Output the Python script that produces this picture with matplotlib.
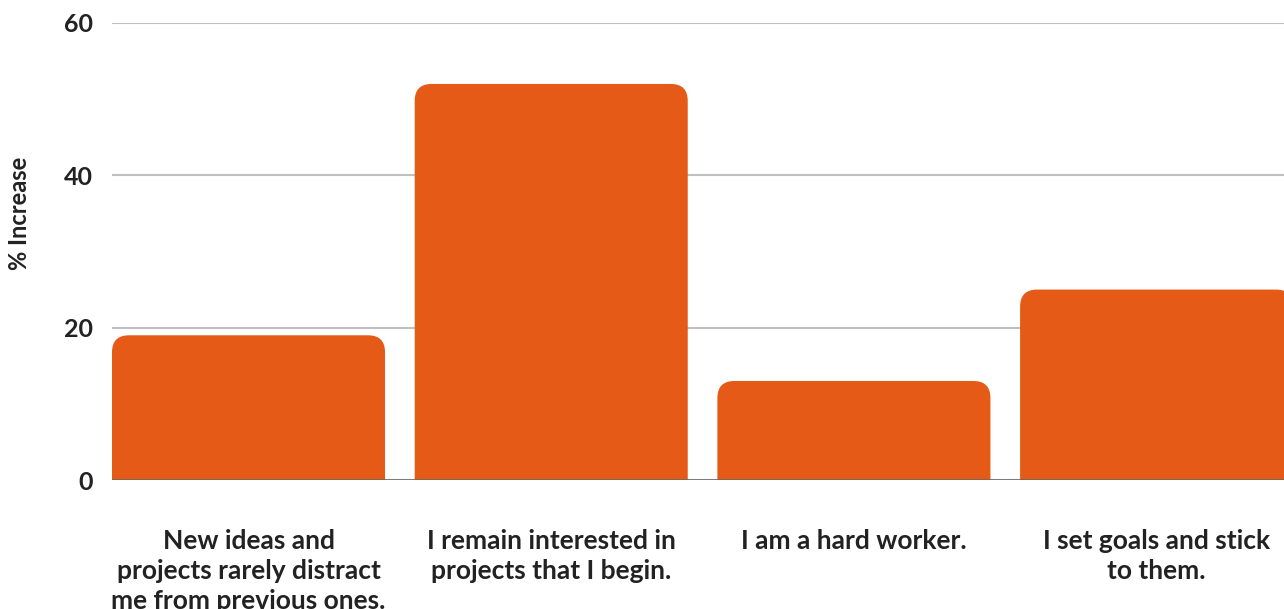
import matplotlib.pyplot as plt
from matplotlib.path import Path
from matplotlib.patches import PathPatch

plt.rcParams['font.family'] = ['Lato', 'DejaVu Sans']
plt.rcParams['font.weight'] = 'bold'

# data
categories = ['New ideas and\nprojects rarely distract\nme from previous ones.',
              'I remain interested in\nprojects that I begin.',
              'I am a hard worker.',
              'I set goals and stick\nto them.']
values = [19, 52, 13, 25]
y_ticks = [0, 20, 40, 60]

bar_color = '#E55A16'
text_color = '#222222'
bar_w = 0.902
pitch = 302.7  # px per category

fig = plt.figure(figsize=(12.84, 6.09), dpi=100)
ax_w = 1182
ax = fig.add_axes([112 / 1284, 129 / 609, ax_w / 1284, 457 / 609])
ax.set_xlim(-bar_w / 2, -bar_w / 2 + ax_w / pitch)
ax.set_ylim(0, 60)

# rounded-top bars, radius given in pixels
rx = 17 / pitch
ry = 17 * 60 / 457
for i, v in enumerate(values):
    x0, x1 = i - bar_w / 2, i + bar_w / 2
    verts = [(x0, 0), (x0, v - ry), (x0, v), (x0 + rx, v),
             (x1 - rx, v), (x1, v), (x1, v - ry), (x1, 0), (x0, 0)]
    codes = [Path.MOVETO, Path.LINETO, Path.CURVE3, Path.CURVE3,
             Path.LINETO, Path.CURVE3, Path.CURVE3, Path.LINETO, Path.CLOSEPOLY]
    ax.add_patch(PathPatch(Path(verts, codes), fc=bar_color, ec='none', zorder=3))

ax.set_yticks(y_ticks)
ax.grid(axis='y', color='#c0c0c0', lw=1.5, zorder=0)
ax.axhline(0, color='#666666', lw=1.8, zorder=4)
for s in ax.spines.values():
    s.set_visible(False)

ax.set_xticks(range(len(categories)))
ax.set_xticklabels(categories, fontsize=19, color=text_color, linespacing=1.3, va='top')
ax.tick_params(axis='x', length=0, pad=35)
ax.tick_params(axis='y', length=0, pad=14, labelsize=18, labelcolor=text_color)

fig.text(20 / 1284, 1 - 213 / 609, '% Increase', rotation=90, fontsize=17,
         color=text_color, ha='center', va='center')

fig.savefig('out.png', dpi=100)
